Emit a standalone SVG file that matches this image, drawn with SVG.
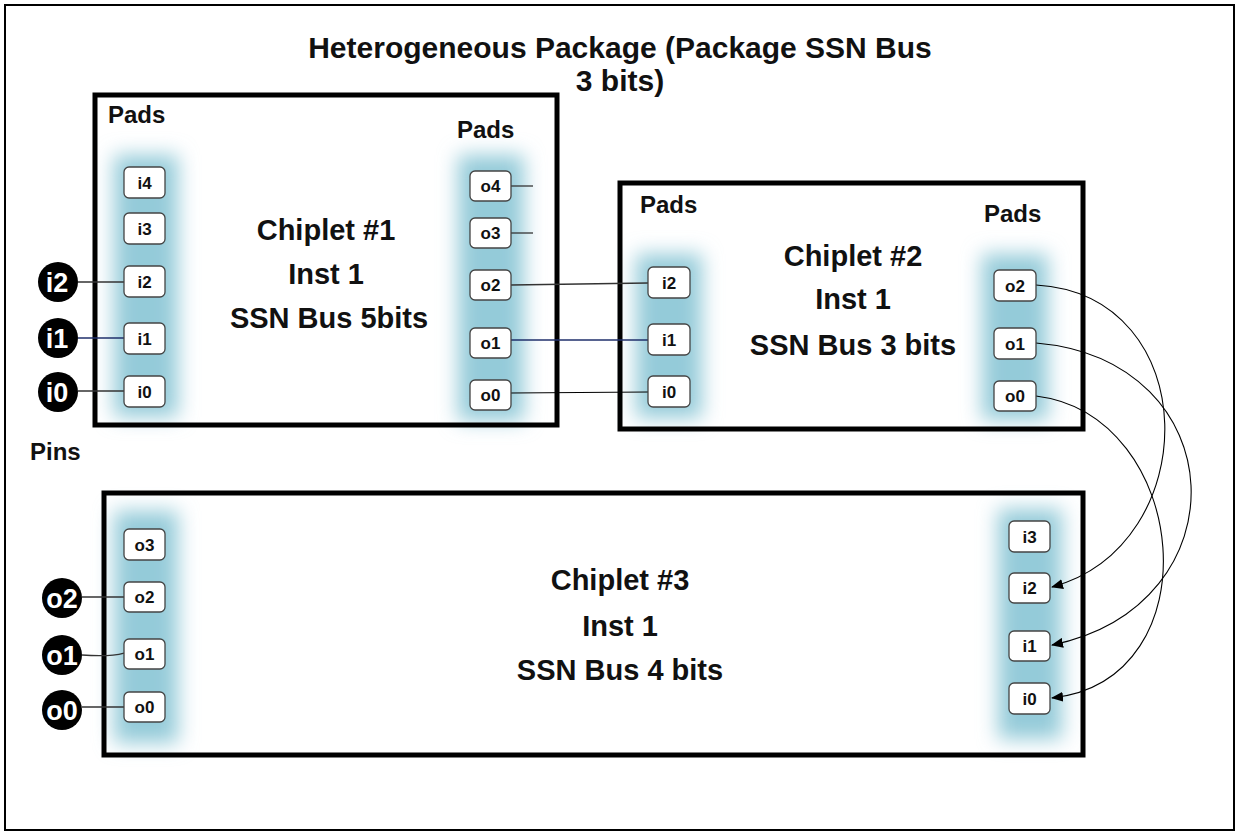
<svg xmlns="http://www.w3.org/2000/svg" width="1240" height="836" viewBox="0 0 1240 836">
<defs>
<filter id="blur" x="-50%" y="-20%" width="200%" height="140%"><feGaussianBlur stdDeviation="10"/></filter>
<marker id="arr" markerWidth="12" markerHeight="10" refX="11" refY="5" orient="auto" markerUnits="userSpaceOnUse"><path d="M0,0 L12,5 L0,10 Z" fill="#000"/></marker>
<style>
text{font-family:"Liberation Sans",Arial,sans-serif;font-weight:bold;fill:#111}
.title{font-size:30px;text-anchor:middle}
.big{font-size:29px;text-anchor:middle}
.lbl{font-size:24px}
.pad rect{fill:#fff;stroke:#444;stroke-width:1.3}
.pad text{font-size:17px;text-anchor:middle}
.pin circle{fill:#000}
.pin text{font-size:27px;fill:#fff;text-anchor:middle}
.chip{fill:none;stroke:#000;stroke-width:5}
.glow{fill:#94cbd9;filter:url(#blur)}
.w{fill:none;stroke:#333;stroke-width:1.3}
.wb{fill:none;stroke:#1f2f6b;stroke-width:1.3}
.c{fill:none;stroke:#000;stroke-width:1.1}
</style>
</defs>
<rect x="0" y="0" width="1240" height="836" fill="#fff"/>
<rect x="5" y="5" width="1229" height="825" fill="none" stroke="#000" stroke-width="2"/>
<text class="title" x="620" y="58">Heterogeneous Package (Package SSN Bus</text>
<text class="title" x="620" y="91">3 bits)</text>

<g id="glows">
<rect class="glow" x="114" y="155" width="64" height="262"/>
<rect class="glow" x="458" y="155" width="66" height="266"/>
<rect class="glow" x="636" y="254" width="66" height="164"/>
<rect class="glow" x="982" y="254" width="66" height="166"/>
<rect class="glow" x="114" y="511" width="64" height="232"/>
<rect class="glow" x="998" y="509" width="64" height="230"/>
</g>

<g id="chiplet1">
<rect class="chip" x="95" y="95" width="462" height="330"/>
<text class="lbl" x="108" y="123">Pads</text>
<text class="lbl" x="457" y="138">Pads</text>
<text class="big" x="326" y="240">Chiplet #1</text>
<text class="big" x="326" y="284">Inst 1</text>
<text class="big" x="329" y="328">SSN Bus 5bits</text>
</g>
<g id="chiplet2">
<rect class="chip" x="620" y="183" width="463" height="246"/>
<text class="lbl" x="640" y="213">Pads</text>
<text class="lbl" x="984" y="222">Pads</text>
<text class="big" x="853" y="266">Chiplet #2</text>
<text class="big" x="853" y="309">Inst 1</text>
<text class="big" x="853" y="355">SSN Bus 3 bits</text>
</g>
<g id="chiplet3">
<rect class="chip" x="104" y="493" width="979" height="262"/>
<text class="big" x="620" y="590">Chiplet #3</text>
<text class="big" x="620" y="636">Inst 1</text>
<text class="big" x="620" y="680">SSN Bus 4 bits</text>
</g>
<text class="lbl" x="30" y="460">Pins</text>

<g id="connectors">
<line class="w" x1="78" y1="282" x2="124" y2="282"/>
<line class="wb" x1="78" y1="338" x2="124" y2="338"/>
<line class="w" x1="78" y1="391" x2="124" y2="391"/>
<line class="w" x1="511" y1="186" x2="533" y2="186"/>
<line class="w" x1="511" y1="233" x2="533" y2="233"/>
<line class="w" x1="511" y1="285" x2="648" y2="283"/>
<line class="wb" x1="511" y1="340" x2="648" y2="340"/>
<line class="c" x1="511" y1="393" x2="648" y2="392"/>
<line class="w" x1="82" y1="597" x2="124" y2="597"/>
<path class="w" d="M82,655 C95,656 110,657 124,653"/>
<line class="w" x1="82" y1="707" x2="124" y2="707"/>
<path class="c" d="M1036,285 C1205,295 1205,545 1052,587" marker-end="url(#arr)"/>
<path class="c" d="M1036,343 C1235,360 1245,605 1052,645" marker-end="url(#arr)"/>
<path class="c" d="M1036,396 C1190,415 1215,680 1052,698" marker-end="url(#arr)"/>
</g>

<g id="pads">
<g class="pad"><rect x="124" y="167" width="41" height="31" rx="5"/><text x="144.5" y="189">i4</text></g>
<g class="pad"><rect x="124" y="213" width="41" height="31" rx="5"/><text x="144.5" y="235">i3</text></g>
<g class="pad"><rect x="124" y="266" width="41" height="31" rx="5"/><text x="144.5" y="288">i2</text></g>
<g class="pad"><rect x="124" y="323" width="41" height="31" rx="5"/><text x="144.5" y="345">i1</text></g>
<g class="pad"><rect x="124" y="376" width="41" height="31" rx="5"/><text x="144.5" y="398">i0</text></g>

<g class="pad"><rect x="470" y="171" width="41" height="30" rx="5"/><text x="490.5" y="192">o4</text></g>
<g class="pad"><rect x="470" y="218" width="41" height="30" rx="5"/><text x="490.5" y="239">o3</text></g>
<g class="pad"><rect x="470" y="270" width="41" height="30" rx="5"/><text x="490.5" y="291">o2</text></g>
<g class="pad"><rect x="470" y="328" width="41" height="30" rx="5"/><text x="490.5" y="349">o1</text></g>
<g class="pad"><rect x="470" y="380" width="41" height="30" rx="5"/><text x="490.5" y="401">o0</text></g>

<g class="pad"><rect x="648" y="267" width="42" height="31" rx="5"/><text x="669" y="289">i2</text></g>
<g class="pad"><rect x="648" y="324" width="42" height="31" rx="5"/><text x="669" y="346">i1</text></g>
<g class="pad"><rect x="648" y="376" width="42" height="31" rx="5"/><text x="669" y="398">i0</text></g>

<g class="pad"><rect x="994" y="270" width="42" height="31" rx="5"/><text x="1015" y="292">o2</text></g>
<g class="pad"><rect x="994" y="328" width="42" height="31" rx="5"/><text x="1015" y="350">o1</text></g>
<g class="pad"><rect x="994" y="381" width="42" height="30" rx="5"/><text x="1015" y="402">o0</text></g>

<g class="pad"><rect x="124" y="529" width="41" height="31" rx="5"/><text x="144.5" y="551">o3</text></g>
<g class="pad"><rect x="124" y="582" width="41" height="30" rx="5"/><text x="144.5" y="603">o2</text></g>
<g class="pad"><rect x="124" y="639" width="41" height="30" rx="5"/><text x="144.5" y="660">o1</text></g>
<g class="pad"><rect x="124" y="692" width="41" height="30" rx="5"/><text x="144.5" y="713">o0</text></g>

<g class="pad"><rect x="1009" y="521" width="41" height="31" rx="5"/><text x="1029.5" y="543">i3</text></g>
<g class="pad"><rect x="1009" y="573" width="41" height="30" rx="5"/><text x="1029.5" y="594">i2</text></g>
<g class="pad"><rect x="1009" y="631" width="41" height="30" rx="5"/><text x="1029.5" y="652">i1</text></g>
<g class="pad"><rect x="1009" y="683" width="41" height="31" rx="5"/><text x="1029.5" y="705">i0</text></g>
</g>

<g id="pins">
<g class="pin"><circle cx="58" cy="282" r="20"/><text x="57" y="292">i2</text></g>
<g class="pin"><circle cx="58" cy="338" r="20"/><text x="57" y="348">i1</text></g>
<g class="pin"><circle cx="58" cy="392" r="20"/><text x="57" y="402">i0</text></g>
<g class="pin"><circle cx="62" cy="598" r="20"/><text x="62" y="608">o2</text></g>
<g class="pin"><circle cx="62" cy="655" r="20"/><text x="62" y="665">o1</text></g>
<g class="pin"><circle cx="62" cy="710" r="20"/><text x="62" y="720">o0</text></g>
</g>
</svg>
